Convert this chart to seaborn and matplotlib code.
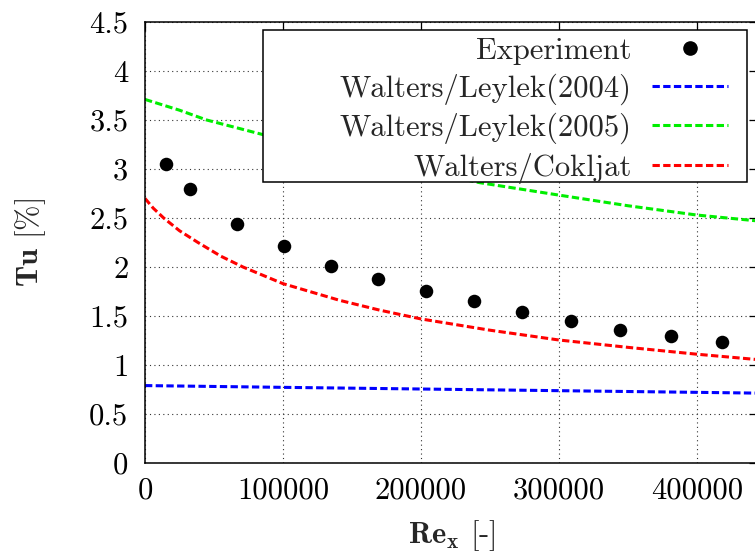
import matplotlib
matplotlib.use("Agg")
import matplotlib.pyplot as plt
from matplotlib.patches import Rectangle
from matplotlib.lines import Line2D
import seaborn as sns

# ---- data ----
exp_re = [15200, 32600, 66700, 100700, 134600, 168600, 203600, 238600, 273400, 308500, 344200, 381200, 418100]
exp_tu = [3.05, 2.80, 2.44, 2.21, 2.01, 1.88, 1.76, 1.65, 1.54, 1.45, 1.36, 1.30, 1.23]

wl2004_re = [0, 100000, 200000, 300000, 400000, 444000]
wl2004_tu = [0.79, 0.772, 0.755, 0.738, 0.721, 0.713]

wl2005_re = [0, 25000, 44700, 85700, 150000, 200000, 242800, 299300, 350000, 400000, 444000]
wl2005_tu = [3.71, 3.60, 3.50, 3.35, 3.13, 2.98, 2.86, 2.735, 2.625, 2.53, 2.47]

wc_re = [0, 6000, 13550, 25000, 38400, 55000, 71000, 100000, 141000, 170000, 200000, 250000, 300000, 350000, 400000, 444000]
wc_tu = [2.70, 2.60, 2.50, 2.37, 2.25, 2.11, 2.00, 1.83, 1.66, 1.56, 1.47, 1.355, 1.255, 1.18, 1.11, 1.055]

labels = ["Experiment", "Walters/Leylek(2004)", "Walters/Leylek(2005)", "Walters/Cokljat"]
xticks = [0, 100000, 200000, 300000, 400000]
xtick_labels = ["0", "100000", "200000", "300000", "400000"]
yticks = [0, 0.5, 1, 1.5, 2, 2.5, 3, 3.5, 4, 4.5]
ytick_labels = ["0", "0.5", "1", "1.5", "2", "2.5", "3", "3.5", "4", "4.5"]

# ---- style ----
sns.set_style("white")
plt.rcParams["font.family"] = ["cmr10", "DejaVu Serif"]
plt.rcParams["mathtext.fontset"] = "cm"
plt.rcParams["axes.formatter.use_mathtext"] = True
plt.rcParams["axes.unicode_minus"] = False

W, H = 755, 555
fig = plt.figure(figsize=(W / 100, H / 100), dpi=100)
ax_l, ax_r, ax_t, ax_b = 145, 758, 22, 463
ax = fig.add_axes([ax_l / W, 1 - ax_b / H, (ax_r - ax_l) / W, (ax_b - ax_t) / H])

dash = (0, (2.4, 1.1))
lw = 2.2
sns.lineplot(x=wl2004_re, y=wl2004_tu, color="#0000ff", linestyle=dash, lw=lw, ax=ax, sort=False)
sns.lineplot(x=wl2005_re, y=wl2005_tu, color="#00ee00", linestyle=dash, lw=lw, ax=ax, sort=False)
sns.lineplot(x=wc_re, y=wc_tu, color="#ff0000", linestyle=dash, lw=lw, ax=ax, sort=False)
sns.scatterplot(x=exp_re, y=exp_tu, color="black", s=95, linewidth=0, ax=ax, zorder=3)

ax.set_xlim(0, (ax_r - ax_l) / 138 * 100000)
ax.set_ylim(0, 4.5)
ax.set_xticks(xticks)
ax.set_xticklabels(xtick_labels)
ax.set_yticks(yticks)
ax.set_yticklabels(ytick_labels)
ax.tick_params(axis="both", direction="in", length=6.5, width=0.9, labelsize=22,
               top=True, right=True, colors="black")
ax.tick_params(axis="y", pad=12)
ax.tick_params(axis="x", pad=10)

ax.grid(True, linestyle=(0, (1, 3)), color="#333333", linewidth=0.8)
ax.set_axisbelow(True)
for s in ax.spines.values():
    s.set_visible(True)
    s.set_color("black")
    s.set_linewidth(1.1)

ax.set_xlabel(r"$\mathbf{Re_x}$ [-]", fontsize=22)
ax.set_ylabel(r"$\mathbf{Tu}$ [%]", fontsize=22)
ax.xaxis.set_label_coords(0.5, (ax_b - 518) / (ax_b - ax_t))
ax.yaxis.set_label_coords((48 - ax_l) / (ax_r - ax_l), 0.5)

# legend box
ax.add_patch(Rectangle((263 / W, 1 - 182 / H), 484 / W, 152 / H, transform=fig.transFigure,
                       facecolor="white", edgecolor="black", lw=1.1, zorder=4, clip_on=False))
handles = [
    Line2D([], [], color="black", marker="o", linestyle="none", markersize=9.5),
    Line2D([], [], color="#0000ff", linestyle=dash, lw=lw),
    Line2D([], [], color="#00ee00", linestyle=dash, lw=lw),
    Line2D([], [], color="#ff0000", linestyle=dash, lw=lw),
]
leg = ax.legend(handles, labels, loc="upper right", bbox_to_anchor=(728 / W, 1 - 37.5 / H),
                bbox_transform=fig.transFigure, frameon=False, markerfirst=False,
                fontsize=22, handlelength=2.5, handletextpad=0.65, labelspacing=0.27,
                borderpad=0, borderaxespad=0)
leg.set_zorder(5)

fig.savefig("out.png", dpi=100)
